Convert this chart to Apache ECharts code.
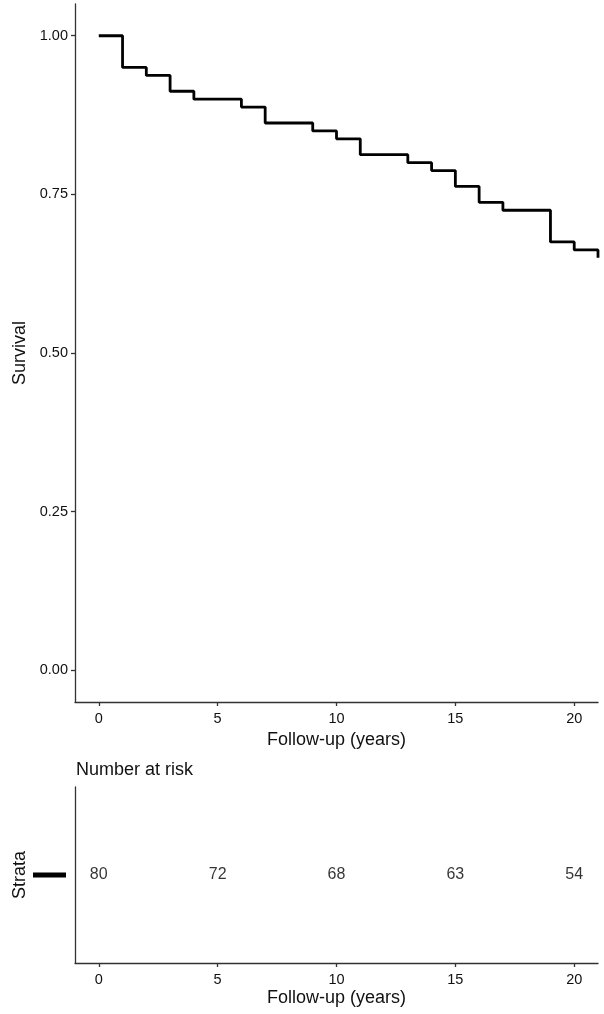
<!DOCTYPE html>
<html>
<head>
<meta charset="utf-8">
<script src="https://cdn.jsdelivr.net/npm/echarts@6/dist/echarts.min.js"></script>
<style>
html,body{margin:0;padding:0;background:#fff;}
#chart{width:604px;height:1014px;}
</style>
</head>
<body>
<div id="chart"></div>
<script>
// Kaplan-Meier step points (time in years, survival probability)
const times = [0, 1, 2, 3, 4, 6, 7, 9, 10, 11, 13, 14, 15, 16, 17, 19, 20, 21];
const survival = [1.00, 0.95, 0.9375, 0.9125, 0.90, 0.8875, 0.8625, 0.85, 0.8375, 0.8125, 0.80, 0.7875, 0.7625, 0.7375, 0.725, 0.675, 0.6625, 0.65];
// Number at risk table
const riskTimes = [0, 5, 10, 15, 20];
const atRisk = [80, 72, 68, 63, 54];
const strata = ['Strata'];
// Tick labels
const xTicks = [0, 5, 10, 15, 20];
const yTicks = [0, 0.25, 0.5, 0.75, 1.0];

const FONT = 'Liberation Sans, Arial, Helvetica, sans-serif';
const axisLineStyle = {color: '#333', width: 1.3};

const chart = echarts.init(document.getElementById('chart'), null, {renderer: 'canvas'});

const kmData = times.map((t, i) => [t, survival[i]]);
const riskData = riskTimes.map((t, i) => [t, 0, atRisk[i]]);

const xAxisCommon = {
  type: 'value', min: -1, max: 21,
  axisLine: {show: true, onZero: false, lineStyle: axisLineStyle},
  axisTick: {show: true, customValues: xTicks, length: 4, lineStyle: axisLineStyle},
  axisLabel: {customValues: xTicks, color: '#111', fontSize: 14.5, fontFamily: FONT, margin: 9},
  splitLine: {show: false},
  name: 'Follow-up (years)', nameLocation: 'middle', nameGap: 26,
  nameTextStyle: {color: '#111', fontSize: 18, fontFamily: FONT}
};

chart.setOption({
  animation: false,
  backgroundColor: '#fff',
  title: {
    text: 'Number at risk', left: 76, top: 761, padding: 0,
    textStyle: {fontSize: 18, fontWeight: 'normal', color: '#111', fontFamily: FONT}
  },
  grid: [
    {left: 75, right: 6, top: 4, height: 698, outerBoundsMode: 'none', containLabel: false},
    {left: 75, right: 6, top: 787, height: 176, outerBoundsMode: 'none', containLabel: false}
  ],
  xAxis: [
    Object.assign({gridIndex: 0}, xAxisCommon),
    Object.assign({gridIndex: 1}, xAxisCommon)
  ],
  yAxis: [
    {
      gridIndex: 0, type: 'value', min: -0.05, max: 1.05,
      axisLine: {show: true, onZero: false, lineStyle: axisLineStyle},
      axisTick: {show: true, customValues: yTicks, length: 4, lineStyle: axisLineStyle},
      axisLabel: {customValues: yTicks, color: '#111', fontSize: 14.5, fontFamily: FONT, margin: 7,
        formatter: v => v.toFixed(2)},
      splitLine: {show: false},
      name: 'Survival', nameLocation: 'middle', nameGap: 46, nameMoveOverlap: false,
      nameTextStyle: {color: '#111', fontSize: 18, fontFamily: FONT}
    },
    {
      gridIndex: 1, type: 'category', data: strata,
      axisLine: {show: true, onZero: false, lineStyle: axisLineStyle},
      axisTick: {show: false},
      axisLabel: {margin: 9, formatter: () => '{bar|}',
        rich: {bar: {width: 33, height: 5, backgroundColor: '#000'}}},
      name: 'Strata', nameLocation: 'middle', nameGap: 46, nameMoveOverlap: false,
      nameTextStyle: {color: '#111', fontSize: 18, fontFamily: FONT}
    }
  ],
  series: [
    {
      type: 'line', xAxisIndex: 0, yAxisIndex: 0, step: 'end',
      data: kmData, showSymbol: false, symbol: 'none',
      lineStyle: {color: '#000', width: 2.8}, clip: true
    },
    {
      type: 'scatter', xAxisIndex: 1, yAxisIndex: 1,
      data: riskData, symbolSize: 1, itemStyle: {color: 'rgba(0,0,0,0)'},
      label: {show: true, position: 'inside', formatter: p => String(p.value[2]),
        color: '#000', fontSize: 16, fontFamily: FONT, textBorderWidth: 0}
    }
  ]
});
</script>
</body>
</html>
